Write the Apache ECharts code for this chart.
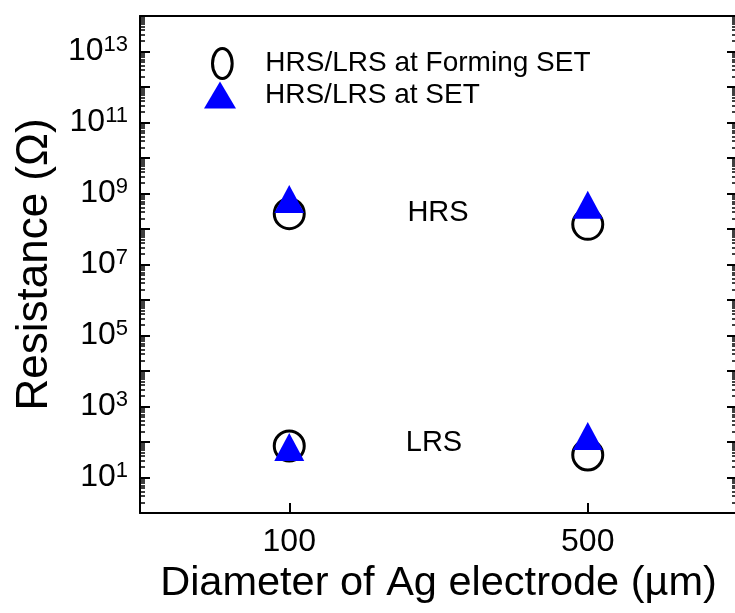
<!DOCTYPE html>
<html>
<head>
<meta charset="utf-8">
<script src="https://cdn.jsdelivr.net/npm/echarts@6/dist/echarts.min.js"></script>
<style>
html,body{margin:0;padding:0;background:#fff;}
#chart{width:735px;height:613px;}
</style>
</head>
<body>
<div id="chart"></div>
<script>
// ---- data ----
const categories = ['100', '500'];
const seriesNames = ['HRS/LRS at Forming SET', 'HRS/LRS at SET'];
const formingHRS = [2.7e8, 1.35e8];
const formingLRS = [77, 43];
const setHRS = [7.0e8, 4.8e8];
const setLRS = [72, 147];
const majorTicks = [1e0,1e1,1e2,1e3,1e4,1e5,1e6,1e7,1e8,1e9,1e10,1e11,1e12,1e13,1e14];
const labelTicks = [1e1,1e3,1e5,1e7,1e9,1e11,1e13];
const minorMultipliers = [2,3,4,5,6,7,8,9];
const annotations = [{text:'HRS', x:438, y:213}, {text:'LRS', x:434, y:443}];

const minorTicks = [];
for (let e = 0; e < 14; e++) {
  for (const m of minorMultipliers) minorTicks.push(m * Math.pow(10, e));
}

const FONT = "'Liberation Sans', Arial, Helvetica, sans-serif";
const chart = echarts.init(document.getElementById('chart'), null, {renderer: 'canvas'});

function yAx(opts) {
  return Object.assign({
    type: 'log', logBase: 10, min: 1, max: 1e14,
    splitLine: {show: false},
    axisLine: {show: false},
    axisLabel: {show: false},
    axisTick: {show: false}
  }, opts);
}

const option = {
  backgroundColor: '#fff',
  animation: false,
  grid: {left: 140, top: 16, width: 597, height: 497, containLabel: false, outerBoundsMode: 'none'},
  legend: [
    {
      left: 206, top: 42, orient: 'vertical',
      itemWidth: 20, itemHeight: 30,
      selectedMode: false,
      textStyle: {fontFamily: FONT, fontSize: 28, color: '#000', padding: [0,0,0,28]},
      data: [{name: seriesNames[0], icon: 'path://M10.5,0 A10.5,16 0 1,1 10.5,32 A10.5,16 0 1,1 10.5,0 Z',
        itemStyle: {color: 'transparent', borderColor: '#000', borderWidth: 3}}]
    },
    {
      left: 199, top: 76, orient: 'vertical',
      itemWidth: 32, itemHeight: 27,
      selectedMode: false,
      textStyle: {fontFamily: FONT, fontSize: 28, color: '#000', padding: [0,0,0,24]},
      data: [{name: seriesNames[1], icon: 'triangle', itemStyle: {color: '#0000ff', borderWidth: 0}}]
    }
  ],
  xAxis: [
    {
      type: 'category', data: categories, boundaryGap: true,
      position: 'bottom',
      axisLine: {show: true, lineStyle: {color: '#000', width: 2}},
      axisTick: {show: true, inside: true, alignWithLabel: true, length: 10, lineStyle: {color: '#000', width: 2}},
      axisLabel: {show: true, margin: 13, fontFamily: FONT, fontSize: 32, color: '#000'},
      splitLine: {show: false},
      name: 'Diameter of Ag electrode (\u00b5m)',
      nameLocation: 'middle', nameGap: 48,
      nameTextStyle: {fontFamily: FONT, fontSize: 41.5, color: '#000'}
    },
    {
      type: 'category', data: categories, boundaryGap: true,
      position: 'top',
      axisLine: {show: true, lineStyle: {color: '#000', width: 2}},
      axisTick: {show: false}, axisLabel: {show: false}, splitLine: {show: false}
    }
  ],
  yAxis: [
    yAx({
      position: 'left',
      axisLine: {show: true, lineStyle: {color: '#000', width: 2}},
      axisTick: {show: true, inside: true, length: 10, customValues: majorTicks, lineStyle: {color: '#000', width: 2}},
      axisLabel: {
        show: true, margin: 12, customValues: labelTicks,
        formatter: function (v) {
          const e = Math.round(Math.log10(v));
          return '{b|10}{s|' + e + '}';
        },
        rich: {
          b: {fontFamily: FONT, fontSize: 32, color: '#000', lineHeight: 36},
          s: {fontFamily: FONT, fontSize: 22, color: '#000', verticalAlign: 'top', lineHeight: 22}
        }
      },
      name: 'Resistance (\u03a9)',
      nameLocation: 'middle', nameGap: 83, nameRotate: 90,
      nameTextStyle: {fontFamily: FONT, fontSize: 44, color: '#000'}
    }),
    yAx({
      position: 'left',
      axisTick: {show: true, inside: true, length: 5, customValues: minorTicks, lineStyle: {color: '#000', width: 1.5}}
    }),
    yAx({
      position: 'right',
      axisTick: {show: true, inside: true, length: 10, customValues: majorTicks, lineStyle: {color: '#000', width: 2}}
    }),
    yAx({
      position: 'right',
      axisTick: {show: true, inside: true, length: 5, customValues: minorTicks, lineStyle: {color: '#000', width: 1.5}}
    })
  ],
  series: [
    {
      name: seriesNames[0], type: 'scatter', xAxisIndex: 0, yAxisIndex: 0,
      symbol: 'circle', symbolSize: 30,
      itemStyle: {color: 'transparent', borderColor: '#000', borderWidth: 3, opacity: 1},
      data: categories.map((c, i) => [c, formingHRS[i]]).concat(categories.map((c, i) => [c, formingLRS[i]]))
    },
    {
      name: seriesNames[1], type: 'scatter', xAxisIndex: 0, yAxisIndex: 0,
      symbol: 'triangle', symbolSize: [30, 28],
      itemStyle: {color: '#0000ff', opacity: 1},
      data: categories.map((c, i) => [c, setHRS[i]]).concat(categories.map((c, i) => [c, setLRS[i]]))
    }
  ],
  graphic: annotations.map(a => ({
    type: 'text', x: a.x, y: a.y,
    style: {text: a.text, fontFamily: FONT, fontSize: 29, fill: '#000', align: 'center', verticalAlign: 'middle'}
  }))
};
chart.setOption(option);
</script>
</body>
</html>
